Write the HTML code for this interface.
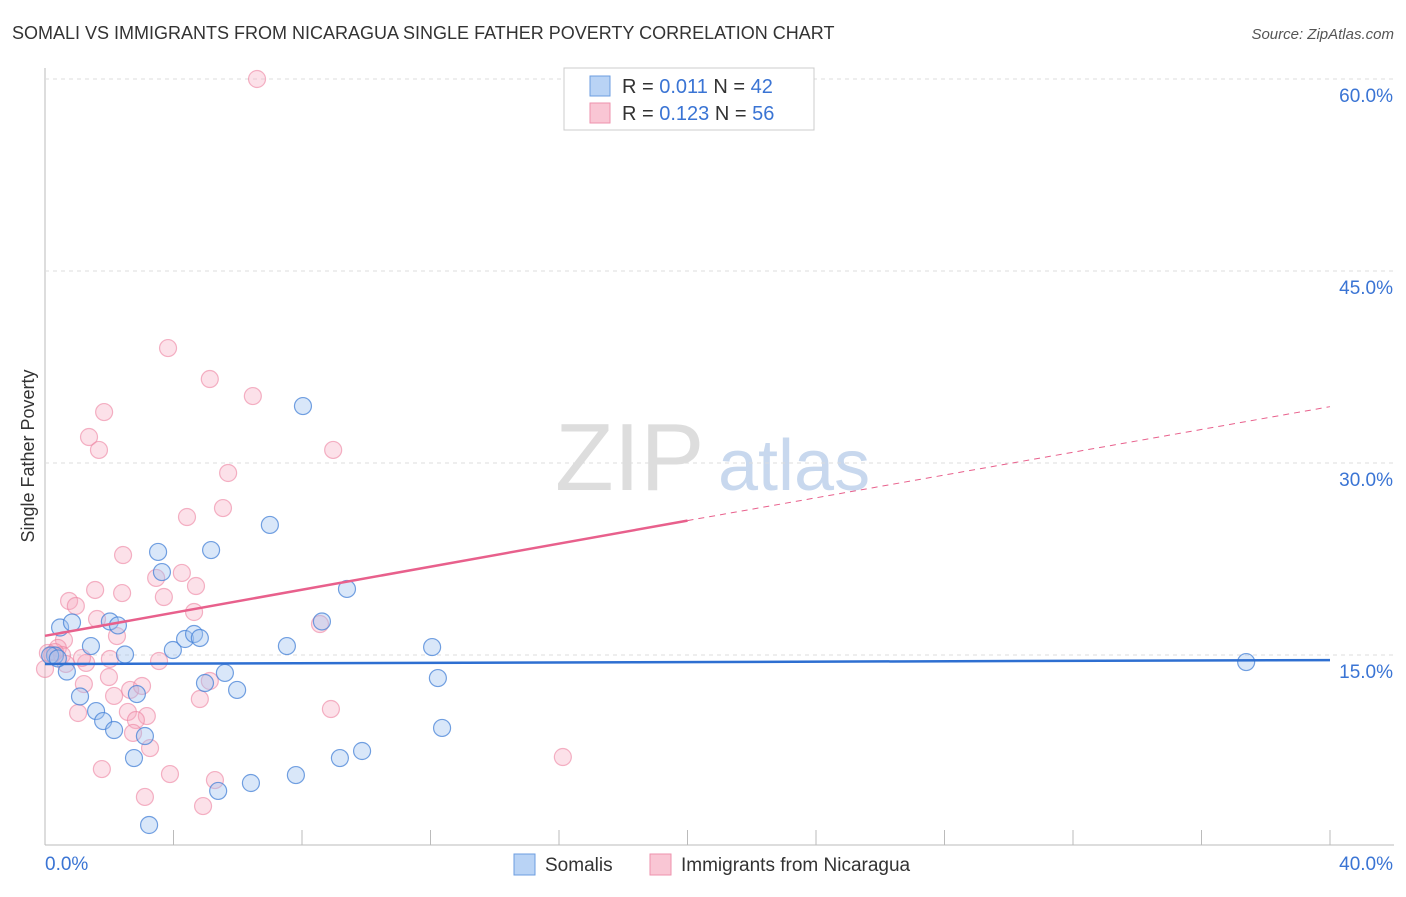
<!DOCTYPE html>
<html><head><meta charset="utf-8"><style>
body{margin:0;background:#fff;font-family:"Liberation Sans",sans-serif;}
svg text{font-family:"Liberation Sans",sans-serif;}
</style></head><body>
<svg id="chart" width="1406" height="892" xmlns="http://www.w3.org/2000/svg">
<text x="12" y="39" font-size="18" fill="#333">SOMALI VS IMMIGRANTS FROM NICARAGUA SINGLE FATHER POVERTY CORRELATION CHART</text>
<text x="1394" y="39" font-size="15" fill="#555" text-anchor="end" font-style="italic">Source: ZipAtlas.com</text>
<text transform="translate(34,456) rotate(-90)" font-size="18" fill="#333" text-anchor="middle">Single Father Poverty</text>
<g><text x="555" y="490" font-size="96" fill="#ddd" font-family="Liberation Serif">ZIP</text><text x="718" y="490" font-size="72" fill="#c8d8ee">atlas</text></g>
<g id="grid"></g><g id="pts"></g><g id="lines"></g>
<g>
<rect x="564" y="68" width="250" height="62" fill="#fff" stroke="#ccc"/>
<rect x="590" y="76" width="20" height="20" fill="#b9d3f5" stroke="#6c9ee0"/>
<rect x="590" y="103" width="20" height="20" fill="#f9c6d4" stroke="#ee92ad"/>
<text x="622" y="93" font-size="20" fill="#333">R = <tspan fill="#3a74d4">0.011</tspan>   N = <tspan fill="#3a74d4">42</tspan></text>
<text x="622" y="120" font-size="20" fill="#333">R = <tspan fill="#3a74d4">0.123</tspan>   N = <tspan fill="#3a74d4">56</tspan></text>
</g>
<g>
<rect x="514" y="854" width="21" height="21" fill="#b9d3f5" stroke="#6c9ee0"/>
<text x="545" y="871" font-size="19" fill="#333">Somalis</text>
<rect x="650" y="854" width="21" height="21" fill="#f9c6d4" stroke="#ee92ad"/>
<text x="681" y="871" font-size="19" fill="#333">Immigrants from Nicaragua</text>
</g>
</svg>
<script>
const NS="http://www.w3.org/2000/svg";
const yTicks=[15,30,45,60];
const yTickLabels=["15.0%","30.0%","45.0%","60.0%"];
const xTickLabels=["0.0%","40.0%"];
const somaliX=[0.31,0.47,0.84,0.68,1.09,1.43,1.59,1.81,2.02,2.15,2.27,2.49,2.77,2.86,3.11,3.24,3.52,3.64,3.98,4.36,4.64,4.82,4.98,5.17,5.39,5.60,5.98,6.41,7.00,7.53,7.81,8.03,8.62,9.18,9.40,9.87,12.05,12.23,12.36,37.39,0.16,0.40];
const somaliY=[14.96,17.15,17.54,13.71,11.76,15.70,10.62,9.84,17.62,9.14,17.31,15.04,6.95,11.95,8.67,1.72,23.05,21.48,15.39,16.25,16.64,16.33,12.81,23.20,4.38,13.60,12.27,5.00,25.16,15.70,5.62,34.45,17.62,6.95,20.16,7.50,15.62,13.20,9.30,14.45,14.96,14.73];
const nicX=[6.60,3.83,5.13,6.47,1.84,1.37,1.68,8.97,5.70,5.54,4.42,2.43,3.46,4.26,4.70,3.70,2.40,1.56,0.75,0.96,4.64,1.62,8.56,2.24,0.59,0.40,0.09,0.00,0.22,0.53,1.28,1.15,3.55,1.99,5.13,1.21,2.65,3.02,2.15,4.82,1.03,2.58,3.17,2.83,8.90,2.74,3.27,1.77,3.89,5.29,3.11,4.92,16.12,2.02,0.65,0.31];
const nicY=[60.0,38.98,36.56,35.23,33.98,32.03,31.02,31.02,29.22,26.48,25.78,22.81,21.02,21.41,20.39,19.53,19.84,20.08,19.22,18.83,18.36,17.81,17.42,16.48,16.17,15.55,15.16,13.91,15.00,15.00,14.38,14.77,14.53,13.28,12.97,12.73,12.27,12.58,11.80,11.56,10.47,10.55,10.23,9.92,10.78,8.91,7.73,6.09,5.70,5.23,3.91,3.20,7.03,14.69,14.30,15.23];
const X0=45,X1=1330,xMax=40,Y0=847,pxPer=192/15;
const sx=v=>X0+v/xMax*(X1-X0), sy=v=>Y0-v*pxPer;
const svg=document.getElementById('chart');
function mk(t,a,p){const e=document.createElementNS(NS,t);for(const k in a)e.setAttribute(k,a[k]);p.appendChild(e);return e;}
const grid=document.getElementById('grid');
const ax=mk('line',{x1:45,y1:68,x2:45,y2:845,stroke:'#bbb'},grid);


const bx=mk('line',{x1:45,y1:845,x2:1394,y2:845,stroke:'#bbb'},grid);


for(let i=0;i<=10;i++){const t=mk('line',{x1:sx(i*4),y1:830,x2:sx(i*4),y2:845,stroke:'#bbb'},grid);

}
yTicks.forEach((v,i)=>{const g=mk('line',{x1:45,y1:sy(v),x2:1394,y2:sy(v),stroke:'#ddd','stroke-dasharray':'4,4'},grid);


const t=mk('text',{x:1393,y:sy(v)+23,'font-size':19,fill:'#3a74d4','text-anchor':'end'},grid);t.textContent=yTickLabels[i];

});
const xl=[[45,'start'],[1393,'end']];
xTickLabels.forEach((s,i)=>{const t=mk('text',{x:xl[i][0],y:870,'font-size':19,fill:'#3a74d4','text-anchor':xl[i][1]},grid);t.textContent=s;

});
const pts=document.getElementById('pts');
nicX.forEach((x,i)=>{const c=mk('circle',{cx:sx(x),cy:sy(nicY[i]),r:8.5,fill:'rgba(246,170,192,0.35)',stroke:'rgba(236,130,160,0.6)','stroke-width':1.2},pts);

});
somaliX.forEach((x,i)=>{const c=mk('circle',{cx:sx(x),cy:sy(somaliY[i]),r:8.5,fill:'rgba(160,195,240,0.4)',stroke:'rgba(70,130,215,0.75)','stroke-width':1.2},pts);

});
const L=document.getElementById('lines');
const bl=mk('line',{x1:sx(0),y1:sy(14.3),x2:sx(40),y2:sy(14.6),stroke:'#2e6fd1','stroke-width':2.5},L);


const pl=mk('line',{x1:sx(0),y1:sy(16.5),x2:sx(20),y2:sy(25.5),stroke:'#e8608c','stroke-width':2.5},L);


const pd=mk('line',{x1:sx(20),y1:sy(25.5),x2:sx(40),y2:sy(34.4),stroke:'#e8608c','stroke-width':1,'stroke-dasharray':'6,5'},L);


</script>
</body></html>
